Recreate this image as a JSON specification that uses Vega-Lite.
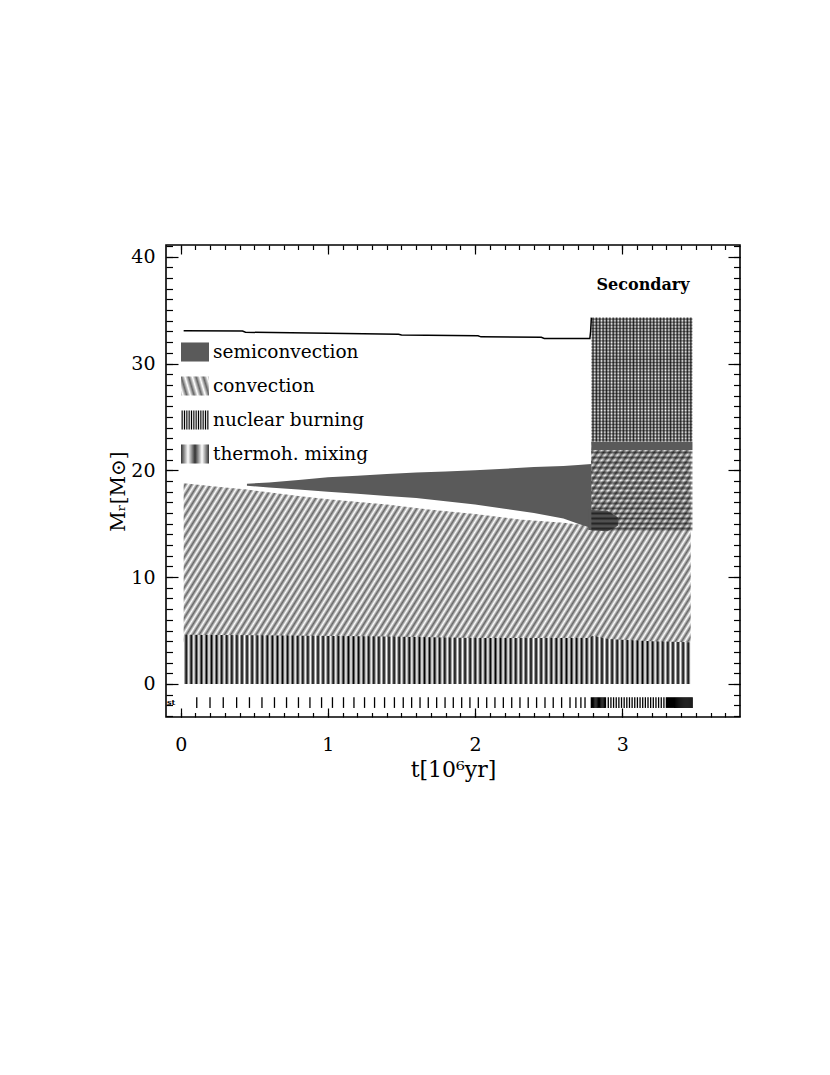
{
"$schema":"https://vega.github.io/schema/vega-lite/v6.json",
"width":574,"height":472,
"autosize":{"type":"none"},
"padding":{"left":166,"top":245,"right":90,"bottom":358},
"background":"white",
"config":{"view":{"stroke":"black","strokeWidth":1.6},"font":"DejaVu Serif",
"axis":{"labelFont":"DejaVu Serif","titleFont":"DejaVu Serif","labelColor":"black","titleColor":"black","tickColor":"black","tickWidth":1.2,"domain":false,"grid":false,"labelFontSize":19,"titleFontWeight":"normal","labelFlush":false,"labelOverlap":false}},
"params":[
{"name":"gConv","value":{"gradient":"linear","x1":0,"y1":0,"x2":1.175,"y2":0.29,"stops":[
{"offset":0,"color":"#fff"},{"offset":0.005,"color":"#666"},{"offset":0.01,"color":"#fff"},{"offset":0.015,"color":"#666"},{"offset":0.02,"color":"#fff"},{"offset":0.025,"color":"#666"},{"offset":0.03,"color":"#fff"},{"offset":0.035,"color":"#666"},{"offset":0.04,"color":"#fff"},{"offset":0.045,"color":"#666"},
{"offset":0.05,"color":"#fff"},{"offset":0.055,"color":"#666"},{"offset":0.06,"color":"#fff"},{"offset":0.065,"color":"#666"},{"offset":0.07,"color":"#fff"},{"offset":0.075,"color":"#666"},{"offset":0.08,"color":"#fff"},{"offset":0.085,"color":"#666"},{"offset":0.09,"color":"#fff"},{"offset":0.095,"color":"#666"},
{"offset":0.1,"color":"#fff"},{"offset":0.105,"color":"#666"},{"offset":0.11,"color":"#fff"},{"offset":0.115,"color":"#666"},{"offset":0.12,"color":"#fff"},{"offset":0.125,"color":"#666"},{"offset":0.13,"color":"#fff"},{"offset":0.135,"color":"#666"},{"offset":0.14,"color":"#fff"},{"offset":0.145,"color":"#666"},
{"offset":0.15,"color":"#fff"},{"offset":0.155,"color":"#666"},{"offset":0.16,"color":"#fff"},{"offset":0.165,"color":"#666"},{"offset":0.17,"color":"#fff"},{"offset":0.175,"color":"#666"},{"offset":0.18,"color":"#fff"},{"offset":0.185,"color":"#666"},{"offset":0.19,"color":"#fff"},{"offset":0.195,"color":"#666"},
{"offset":0.2,"color":"#fff"},{"offset":0.205,"color":"#666"},{"offset":0.21,"color":"#fff"},{"offset":0.215,"color":"#666"},{"offset":0.22,"color":"#fff"},{"offset":0.225,"color":"#666"},{"offset":0.23,"color":"#fff"},{"offset":0.235,"color":"#666"},{"offset":0.24,"color":"#fff"},{"offset":0.245,"color":"#666"},
{"offset":0.25,"color":"#fff"},{"offset":0.255,"color":"#666"},{"offset":0.26,"color":"#fff"},{"offset":0.265,"color":"#666"},{"offset":0.27,"color":"#fff"},{"offset":0.275,"color":"#666"},{"offset":0.28,"color":"#fff"},{"offset":0.285,"color":"#666"},{"offset":0.29,"color":"#fff"},{"offset":0.295,"color":"#666"},
{"offset":0.3,"color":"#fff"},{"offset":0.305,"color":"#666"},{"offset":0.31,"color":"#fff"},{"offset":0.315,"color":"#666"},{"offset":0.32,"color":"#fff"},{"offset":0.325,"color":"#666"},{"offset":0.33,"color":"#fff"},{"offset":0.335,"color":"#666"},{"offset":0.34,"color":"#fff"},{"offset":0.345,"color":"#666"},
{"offset":0.35,"color":"#fff"},{"offset":0.355,"color":"#666"},{"offset":0.36,"color":"#fff"},{"offset":0.365,"color":"#666"},{"offset":0.37,"color":"#fff"},{"offset":0.375,"color":"#666"},{"offset":0.38,"color":"#fff"},{"offset":0.385,"color":"#666"},{"offset":0.39,"color":"#fff"},{"offset":0.395,"color":"#666"},
{"offset":0.4,"color":"#fff"},{"offset":0.405,"color":"#666"},{"offset":0.41,"color":"#fff"},{"offset":0.415,"color":"#666"},{"offset":0.42,"color":"#fff"},{"offset":0.425,"color":"#666"},{"offset":0.43,"color":"#fff"},{"offset":0.435,"color":"#666"},{"offset":0.44,"color":"#fff"},{"offset":0.445,"color":"#666"},
{"offset":0.45,"color":"#fff"},{"offset":0.455,"color":"#666"},{"offset":0.46,"color":"#fff"},{"offset":0.465,"color":"#666"},{"offset":0.47,"color":"#fff"},{"offset":0.475,"color":"#666"},{"offset":0.48,"color":"#fff"},{"offset":0.485,"color":"#666"},{"offset":0.49,"color":"#fff"},{"offset":0.495,"color":"#666"},
{"offset":0.5,"color":"#fff"},{"offset":0.505,"color":"#666"},{"offset":0.51,"color":"#fff"},{"offset":0.515,"color":"#666"},{"offset":0.52,"color":"#fff"},{"offset":0.525,"color":"#666"},{"offset":0.53,"color":"#fff"},{"offset":0.535,"color":"#666"},{"offset":0.54,"color":"#fff"},{"offset":0.545,"color":"#666"},
{"offset":0.55,"color":"#fff"},{"offset":0.555,"color":"#666"},{"offset":0.56,"color":"#fff"},{"offset":0.565,"color":"#666"},{"offset":0.57,"color":"#fff"},{"offset":0.575,"color":"#666"},{"offset":0.58,"color":"#fff"},{"offset":0.585,"color":"#666"},{"offset":0.59,"color":"#fff"},{"offset":0.595,"color":"#666"},
{"offset":0.6,"color":"#fff"},{"offset":0.605,"color":"#666"},{"offset":0.61,"color":"#fff"},{"offset":0.615,"color":"#666"},{"offset":0.62,"color":"#fff"},{"offset":0.625,"color":"#666"},{"offset":0.63,"color":"#fff"},{"offset":0.635,"color":"#666"},{"offset":0.64,"color":"#fff"},{"offset":0.645,"color":"#666"},
{"offset":0.65,"color":"#fff"},{"offset":0.655,"color":"#666"},{"offset":0.66,"color":"#fff"},{"offset":0.665,"color":"#666"},{"offset":0.67,"color":"#fff"},{"offset":0.675,"color":"#666"},{"offset":0.68,"color":"#fff"},{"offset":0.685,"color":"#666"},{"offset":0.69,"color":"#fff"},{"offset":0.695,"color":"#666"},
{"offset":0.7,"color":"#fff"},{"offset":0.705,"color":"#666"},{"offset":0.71,"color":"#fff"},{"offset":0.715,"color":"#666"},{"offset":0.72,"color":"#fff"},{"offset":0.725,"color":"#666"},{"offset":0.73,"color":"#fff"},{"offset":0.735,"color":"#666"},{"offset":0.74,"color":"#fff"},{"offset":0.745,"color":"#666"},
{"offset":0.75,"color":"#fff"},{"offset":0.755,"color":"#666"},{"offset":0.76,"color":"#fff"},{"offset":0.765,"color":"#666"},{"offset":0.77,"color":"#fff"},{"offset":0.775,"color":"#666"},{"offset":0.78,"color":"#fff"},{"offset":0.785,"color":"#666"},{"offset":0.79,"color":"#fff"},{"offset":0.795,"color":"#666"},
{"offset":0.8,"color":"#fff"},{"offset":0.805,"color":"#666"},{"offset":0.81,"color":"#fff"},{"offset":0.815,"color":"#666"},{"offset":0.82,"color":"#fff"},{"offset":0.825,"color":"#666"},{"offset":0.83,"color":"#fff"},{"offset":0.835,"color":"#666"},{"offset":0.84,"color":"#fff"},{"offset":0.845,"color":"#666"},
{"offset":0.85,"color":"#fff"},{"offset":0.855,"color":"#666"},{"offset":0.86,"color":"#fff"},{"offset":0.865,"color":"#666"},{"offset":0.87,"color":"#fff"},{"offset":0.875,"color":"#666"},{"offset":0.88,"color":"#fff"},{"offset":0.885,"color":"#666"},{"offset":0.89,"color":"#fff"},{"offset":0.895,"color":"#666"},
{"offset":0.9,"color":"#fff"},{"offset":0.905,"color":"#666"},{"offset":0.91,"color":"#fff"},{"offset":0.915,"color":"#666"},{"offset":0.92,"color":"#fff"},{"offset":0.925,"color":"#666"},{"offset":0.93,"color":"#fff"},{"offset":0.935,"color":"#666"},{"offset":0.94,"color":"#fff"},{"offset":0.945,"color":"#666"},
{"offset":0.95,"color":"#fff"},{"offset":0.955,"color":"#666"},{"offset":0.96,"color":"#fff"},{"offset":0.965,"color":"#666"},{"offset":0.97,"color":"#fff"},{"offset":0.975,"color":"#666"},{"offset":0.98,"color":"#fff"},{"offset":0.985,"color":"#666"},{"offset":0.99,"color":"#fff"},{"offset":0.995,"color":"#666"},
{"offset":1,"color":"#fff"}]}},
{"name":"gNuc","value":{"gradient":"linear","x1":0,"y1":0,"x2":1,"y2":0,"stops":[
{"offset":0,"color":"#fff"},{"offset":0.005,"color":"#000"},{"offset":0.01,"color":"#fff"},{"offset":0.015,"color":"#000"},{"offset":0.02,"color":"#fff"},{"offset":0.025,"color":"#000"},{"offset":0.03,"color":"#fff"},{"offset":0.035,"color":"#000"},{"offset":0.04,"color":"#fff"},{"offset":0.045,"color":"#000"},
{"offset":0.05,"color":"#fff"},{"offset":0.055,"color":"#000"},{"offset":0.06,"color":"#fff"},{"offset":0.065,"color":"#000"},{"offset":0.07,"color":"#fff"},{"offset":0.075,"color":"#000"},{"offset":0.08,"color":"#fff"},{"offset":0.085,"color":"#000"},{"offset":0.09,"color":"#fff"},{"offset":0.095,"color":"#000"},
{"offset":0.1,"color":"#fff"},{"offset":0.105,"color":"#000"},{"offset":0.11,"color":"#fff"},{"offset":0.115,"color":"#000"},{"offset":0.12,"color":"#fff"},{"offset":0.125,"color":"#000"},{"offset":0.13,"color":"#fff"},{"offset":0.135,"color":"#000"},{"offset":0.14,"color":"#fff"},{"offset":0.145,"color":"#000"},
{"offset":0.15,"color":"#fff"},{"offset":0.155,"color":"#000"},{"offset":0.16,"color":"#fff"},{"offset":0.165,"color":"#000"},{"offset":0.17,"color":"#fff"},{"offset":0.175,"color":"#000"},{"offset":0.18,"color":"#fff"},{"offset":0.185,"color":"#000"},{"offset":0.19,"color":"#fff"},{"offset":0.195,"color":"#000"},
{"offset":0.2,"color":"#fff"},{"offset":0.205,"color":"#000"},{"offset":0.21,"color":"#fff"},{"offset":0.215,"color":"#000"},{"offset":0.22,"color":"#fff"},{"offset":0.225,"color":"#000"},{"offset":0.23,"color":"#fff"},{"offset":0.235,"color":"#000"},{"offset":0.24,"color":"#fff"},{"offset":0.245,"color":"#000"},
{"offset":0.25,"color":"#fff"},{"offset":0.255,"color":"#000"},{"offset":0.26,"color":"#fff"},{"offset":0.265,"color":"#000"},{"offset":0.27,"color":"#fff"},{"offset":0.275,"color":"#000"},{"offset":0.28,"color":"#fff"},{"offset":0.285,"color":"#000"},{"offset":0.29,"color":"#fff"},{"offset":0.295,"color":"#000"},
{"offset":0.3,"color":"#fff"},{"offset":0.305,"color":"#000"},{"offset":0.31,"color":"#fff"},{"offset":0.315,"color":"#000"},{"offset":0.32,"color":"#fff"},{"offset":0.325,"color":"#000"},{"offset":0.33,"color":"#fff"},{"offset":0.335,"color":"#000"},{"offset":0.34,"color":"#fff"},{"offset":0.345,"color":"#000"},
{"offset":0.35,"color":"#fff"},{"offset":0.355,"color":"#000"},{"offset":0.36,"color":"#fff"},{"offset":0.365,"color":"#000"},{"offset":0.37,"color":"#fff"},{"offset":0.375,"color":"#000"},{"offset":0.38,"color":"#fff"},{"offset":0.385,"color":"#000"},{"offset":0.39,"color":"#fff"},{"offset":0.395,"color":"#000"},
{"offset":0.4,"color":"#fff"},{"offset":0.405,"color":"#000"},{"offset":0.41,"color":"#fff"},{"offset":0.415,"color":"#000"},{"offset":0.42,"color":"#fff"},{"offset":0.425,"color":"#000"},{"offset":0.43,"color":"#fff"},{"offset":0.435,"color":"#000"},{"offset":0.44,"color":"#fff"},{"offset":0.445,"color":"#000"},
{"offset":0.45,"color":"#fff"},{"offset":0.455,"color":"#000"},{"offset":0.46,"color":"#fff"},{"offset":0.465,"color":"#000"},{"offset":0.47,"color":"#fff"},{"offset":0.475,"color":"#000"},{"offset":0.48,"color":"#fff"},{"offset":0.485,"color":"#000"},{"offset":0.49,"color":"#fff"},{"offset":0.495,"color":"#000"},
{"offset":0.5,"color":"#fff"},{"offset":0.505,"color":"#000"},{"offset":0.51,"color":"#fff"},{"offset":0.515,"color":"#000"},{"offset":0.52,"color":"#fff"},{"offset":0.525,"color":"#000"},{"offset":0.53,"color":"#fff"},{"offset":0.535,"color":"#000"},{"offset":0.54,"color":"#fff"},{"offset":0.545,"color":"#000"},
{"offset":0.55,"color":"#fff"},{"offset":0.555,"color":"#000"},{"offset":0.56,"color":"#fff"},{"offset":0.565,"color":"#000"},{"offset":0.57,"color":"#fff"},{"offset":0.575,"color":"#000"},{"offset":0.58,"color":"#fff"},{"offset":0.585,"color":"#000"},{"offset":0.59,"color":"#fff"},{"offset":0.595,"color":"#000"},
{"offset":0.6,"color":"#fff"},{"offset":0.605,"color":"#000"},{"offset":0.61,"color":"#fff"},{"offset":0.615,"color":"#000"},{"offset":0.62,"color":"#fff"},{"offset":0.625,"color":"#000"},{"offset":0.63,"color":"#fff"},{"offset":0.635,"color":"#000"},{"offset":0.64,"color":"#fff"},{"offset":0.645,"color":"#000"},
{"offset":0.65,"color":"#fff"},{"offset":0.655,"color":"#000"},{"offset":0.66,"color":"#fff"},{"offset":0.665,"color":"#000"},{"offset":0.67,"color":"#fff"},{"offset":0.675,"color":"#000"},{"offset":0.68,"color":"#fff"},{"offset":0.685,"color":"#000"},{"offset":0.69,"color":"#fff"},{"offset":0.695,"color":"#000"},
{"offset":0.7,"color":"#fff"},{"offset":0.705,"color":"#000"},{"offset":0.71,"color":"#fff"},{"offset":0.715,"color":"#000"},{"offset":0.72,"color":"#fff"},{"offset":0.725,"color":"#000"},{"offset":0.73,"color":"#fff"},{"offset":0.735,"color":"#000"},{"offset":0.74,"color":"#fff"},{"offset":0.745,"color":"#000"},
{"offset":0.75,"color":"#fff"},{"offset":0.755,"color":"#000"},{"offset":0.76,"color":"#fff"},{"offset":0.765,"color":"#000"},{"offset":0.77,"color":"#fff"},{"offset":0.775,"color":"#000"},{"offset":0.78,"color":"#fff"},{"offset":0.785,"color":"#000"},{"offset":0.79,"color":"#fff"},{"offset":0.795,"color":"#000"},
{"offset":0.8,"color":"#fff"},{"offset":0.805,"color":"#000"},{"offset":0.81,"color":"#fff"},{"offset":0.815,"color":"#000"},{"offset":0.82,"color":"#fff"},{"offset":0.825,"color":"#000"},{"offset":0.83,"color":"#fff"},{"offset":0.835,"color":"#000"},{"offset":0.84,"color":"#fff"},{"offset":0.845,"color":"#000"},
{"offset":0.85,"color":"#fff"},{"offset":0.855,"color":"#000"},{"offset":0.86,"color":"#fff"},{"offset":0.865,"color":"#000"},{"offset":0.87,"color":"#fff"},{"offset":0.875,"color":"#000"},{"offset":0.88,"color":"#fff"},{"offset":0.885,"color":"#000"},{"offset":0.89,"color":"#fff"},{"offset":0.895,"color":"#000"},
{"offset":0.9,"color":"#fff"},{"offset":0.905,"color":"#000"},{"offset":0.91,"color":"#fff"},{"offset":0.915,"color":"#000"},{"offset":0.92,"color":"#fff"},{"offset":0.925,"color":"#000"},{"offset":0.93,"color":"#fff"},{"offset":0.935,"color":"#000"},{"offset":0.94,"color":"#fff"},{"offset":0.945,"color":"#000"},
{"offset":0.95,"color":"#fff"},{"offset":0.955,"color":"#000"},{"offset":0.96,"color":"#fff"},{"offset":0.965,"color":"#000"},{"offset":0.97,"color":"#fff"},{"offset":0.975,"color":"#000"},{"offset":0.98,"color":"#fff"},{"offset":0.985,"color":"#000"},{"offset":0.99,"color":"#fff"},{"offset":0.995,"color":"#000"},
{"offset":1,"color":"#fff"}]}},
{"name":"gThV","value":{"gradient":"linear","x1":0,"y1":0,"x2":1,"y2":0,"stops":[
{"offset":0,"color":"#fff"},{"offset":0.0167,"color":"#333"},{"offset":0.0333,"color":"#fff"},{"offset":0.05,"color":"#333"},{"offset":0.0667,"color":"#fff"},{"offset":0.0833,"color":"#333"},{"offset":0.1,"color":"#fff"},{"offset":0.1167,"color":"#333"},{"offset":0.1333,"color":"#fff"},{"offset":0.15,"color":"#333"},
{"offset":0.1667,"color":"#fff"},{"offset":0.1833,"color":"#333"},{"offset":0.2,"color":"#fff"},{"offset":0.2167,"color":"#333"},{"offset":0.2333,"color":"#fff"},{"offset":0.25,"color":"#333"},{"offset":0.2667,"color":"#fff"},{"offset":0.2833,"color":"#333"},{"offset":0.3,"color":"#fff"},{"offset":0.3167,"color":"#333"},
{"offset":0.3333,"color":"#fff"},{"offset":0.35,"color":"#333"},{"offset":0.3667,"color":"#fff"},{"offset":0.3833,"color":"#333"},{"offset":0.4,"color":"#fff"},{"offset":0.4167,"color":"#333"},{"offset":0.4333,"color":"#fff"},{"offset":0.45,"color":"#333"},{"offset":0.4667,"color":"#fff"},{"offset":0.4833,"color":"#333"},
{"offset":0.5,"color":"#fff"},{"offset":0.5167,"color":"#333"},{"offset":0.5333,"color":"#fff"},{"offset":0.55,"color":"#333"},{"offset":0.5667,"color":"#fff"},{"offset":0.5833,"color":"#333"},{"offset":0.6,"color":"#fff"},{"offset":0.6167,"color":"#333"},{"offset":0.6333,"color":"#fff"},{"offset":0.65,"color":"#333"},
{"offset":0.6667,"color":"#fff"},{"offset":0.6833,"color":"#333"},{"offset":0.7,"color":"#fff"},{"offset":0.7167,"color":"#333"},{"offset":0.7333,"color":"#fff"},{"offset":0.75,"color":"#333"},{"offset":0.7667,"color":"#fff"},{"offset":0.7833,"color":"#333"},{"offset":0.8,"color":"#fff"},{"offset":0.8167,"color":"#333"},
{"offset":0.8333,"color":"#fff"},{"offset":0.85,"color":"#333"},{"offset":0.8667,"color":"#fff"},{"offset":0.8833,"color":"#333"},{"offset":0.9,"color":"#fff"},{"offset":0.9167,"color":"#333"},{"offset":0.9333,"color":"#fff"},{"offset":0.95,"color":"#333"},{"offset":0.9667,"color":"#fff"},{"offset":0.9833,"color":"#333"},
{"offset":1,"color":"#fff"}]}},
{"name":"gThH","value":{"gradient":"linear","x1":1,"y1":0,"x2":1,"y2":1,"stops":[
{"offset":0,"color":"rgba(0,0,0,0)"},{"offset":0.0125,"color":"rgba(0,0,0,0.55)"},{"offset":0.025,"color":"rgba(0,0,0,0)"},{"offset":0.0375,"color":"rgba(0,0,0,0.55)"},{"offset":0.05,"color":"rgba(0,0,0,0)"},{"offset":0.0625,"color":"rgba(0,0,0,0.55)"},{"offset":0.075,"color":"rgba(0,0,0,0)"},{"offset":0.0875,"color":"rgba(0,0,0,0.55)"},
{"offset":0.1,"color":"rgba(0,0,0,0)"},{"offset":0.1125,"color":"rgba(0,0,0,0.55)"},{"offset":0.125,"color":"rgba(0,0,0,0)"},{"offset":0.1375,"color":"rgba(0,0,0,0.55)"},{"offset":0.15,"color":"rgba(0,0,0,0)"},{"offset":0.1625,"color":"rgba(0,0,0,0.55)"},{"offset":0.175,"color":"rgba(0,0,0,0)"},{"offset":0.1875,"color":"rgba(0,0,0,0.55)"},
{"offset":0.2,"color":"rgba(0,0,0,0)"},{"offset":0.2125,"color":"rgba(0,0,0,0.55)"},{"offset":0.225,"color":"rgba(0,0,0,0)"},{"offset":0.2375,"color":"rgba(0,0,0,0.55)"},{"offset":0.25,"color":"rgba(0,0,0,0)"},{"offset":0.2625,"color":"rgba(0,0,0,0.55)"},{"offset":0.275,"color":"rgba(0,0,0,0)"},{"offset":0.2875,"color":"rgba(0,0,0,0.55)"},
{"offset":0.3,"color":"rgba(0,0,0,0)"},{"offset":0.3125,"color":"rgba(0,0,0,0.55)"},{"offset":0.325,"color":"rgba(0,0,0,0)"},{"offset":0.3375,"color":"rgba(0,0,0,0.55)"},{"offset":0.35,"color":"rgba(0,0,0,0)"},{"offset":0.3625,"color":"rgba(0,0,0,0.55)"},{"offset":0.375,"color":"rgba(0,0,0,0)"},{"offset":0.3875,"color":"rgba(0,0,0,0.55)"},
{"offset":0.4,"color":"rgba(0,0,0,0)"},{"offset":0.4125,"color":"rgba(0,0,0,0.55)"},{"offset":0.425,"color":"rgba(0,0,0,0)"},{"offset":0.4375,"color":"rgba(0,0,0,0.55)"},{"offset":0.45,"color":"rgba(0,0,0,0)"},{"offset":0.4625,"color":"rgba(0,0,0,0.55)"},{"offset":0.475,"color":"rgba(0,0,0,0)"},{"offset":0.4875,"color":"rgba(0,0,0,0.55)"},
{"offset":0.5,"color":"rgba(0,0,0,0)"},{"offset":0.5125,"color":"rgba(0,0,0,0.55)"},{"offset":0.525,"color":"rgba(0,0,0,0)"},{"offset":0.5375,"color":"rgba(0,0,0,0.55)"},{"offset":0.55,"color":"rgba(0,0,0,0)"},{"offset":0.5625,"color":"rgba(0,0,0,0.55)"},{"offset":0.575,"color":"rgba(0,0,0,0)"},{"offset":0.5875,"color":"rgba(0,0,0,0.55)"},
{"offset":0.6,"color":"rgba(0,0,0,0)"},{"offset":0.6125,"color":"rgba(0,0,0,0.55)"},{"offset":0.625,"color":"rgba(0,0,0,0)"},{"offset":0.6375,"color":"rgba(0,0,0,0.55)"},{"offset":0.65,"color":"rgba(0,0,0,0)"},{"offset":0.6625,"color":"rgba(0,0,0,0.55)"},{"offset":0.675,"color":"rgba(0,0,0,0)"},{"offset":0.6875,"color":"rgba(0,0,0,0.55)"},
{"offset":0.7,"color":"rgba(0,0,0,0)"},{"offset":0.7125,"color":"rgba(0,0,0,0.55)"},{"offset":0.725,"color":"rgba(0,0,0,0)"},{"offset":0.7375,"color":"rgba(0,0,0,0.55)"},{"offset":0.75,"color":"rgba(0,0,0,0)"},{"offset":0.7625,"color":"rgba(0,0,0,0.55)"},{"offset":0.775,"color":"rgba(0,0,0,0)"},{"offset":0.7875,"color":"rgba(0,0,0,0.55)"},
{"offset":0.8,"color":"rgba(0,0,0,0)"},{"offset":0.8125,"color":"rgba(0,0,0,0.55)"},{"offset":0.825,"color":"rgba(0,0,0,0)"},{"offset":0.8375,"color":"rgba(0,0,0,0.55)"},{"offset":0.85,"color":"rgba(0,0,0,0)"},{"offset":0.8625,"color":"rgba(0,0,0,0.55)"},{"offset":0.875,"color":"rgba(0,0,0,0)"},{"offset":0.8875,"color":"rgba(0,0,0,0.55)"},
{"offset":0.9,"color":"rgba(0,0,0,0)"},{"offset":0.9125,"color":"rgba(0,0,0,0.55)"},{"offset":0.925,"color":"rgba(0,0,0,0)"},{"offset":0.9375,"color":"rgba(0,0,0,0.55)"},{"offset":0.95,"color":"rgba(0,0,0,0)"},{"offset":0.9625,"color":"rgba(0,0,0,0.55)"},{"offset":0.975,"color":"rgba(0,0,0,0)"},{"offset":0.9875,"color":"rgba(0,0,0,0.55)"},
{"offset":1,"color":"rgba(0,0,0,0)"}]}},
{"name":"gHz","value":{"gradient":"linear","x1":1,"y1":0,"x2":1,"y2":1,"stops":[
{"offset":0,"color":"rgba(0,0,0,0)"},{"offset":0.03125,"color":"rgba(0,0,0,0.6)"},{"offset":0.0625,"color":"rgba(0,0,0,0)"},{"offset":0.09375,"color":"rgba(0,0,0,0.6)"},{"offset":0.125,"color":"rgba(0,0,0,0)"},{"offset":0.15625,"color":"rgba(0,0,0,0.6)"},{"offset":0.1875,"color":"rgba(0,0,0,0)"},{"offset":0.21875,"color":"rgba(0,0,0,0.6)"},
{"offset":0.25,"color":"rgba(0,0,0,0)"},{"offset":0.28125,"color":"rgba(0,0,0,0.6)"},{"offset":0.3125,"color":"rgba(0,0,0,0)"},{"offset":0.34375,"color":"rgba(0,0,0,0.6)"},{"offset":0.375,"color":"rgba(0,0,0,0)"},{"offset":0.40625,"color":"rgba(0,0,0,0.6)"},{"offset":0.4375,"color":"rgba(0,0,0,0)"},{"offset":0.46875,"color":"rgba(0,0,0,0.6)"},
{"offset":0.5,"color":"rgba(0,0,0,0)"},{"offset":0.53125,"color":"rgba(0,0,0,0.6)"},{"offset":0.5625,"color":"rgba(0,0,0,0)"},{"offset":0.59375,"color":"rgba(0,0,0,0.6)"},{"offset":0.625,"color":"rgba(0,0,0,0)"},{"offset":0.65625,"color":"rgba(0,0,0,0.6)"},{"offset":0.6875,"color":"rgba(0,0,0,0)"},{"offset":0.71875,"color":"rgba(0,0,0,0.6)"},
{"offset":0.75,"color":"rgba(0,0,0,0)"},{"offset":0.78125,"color":"rgba(0,0,0,0.6)"},{"offset":0.8125,"color":"rgba(0,0,0,0)"},{"offset":0.84375,"color":"rgba(0,0,0,0.6)"},{"offset":0.875,"color":"rgba(0,0,0,0)"},{"offset":0.90625,"color":"rgba(0,0,0,0.6)"},{"offset":0.9375,"color":"rgba(0,0,0,0)"},{"offset":0.96875,"color":"rgba(0,0,0,0.6)"},
{"offset":1,"color":"rgba(0,0,0,0)"}]}},
{"name":"lgConv","value":{"gradient":"linear","x1":0,"y1":0,"x2":1.207,"y2":0.512,"stops":[
{"offset":0,"color":"#fff"},{"offset":0.0833,"color":"#222"},{"offset":0.1667,"color":"#fff"},{"offset":0.25,"color":"#222"},{"offset":0.3333,"color":"#fff"},{"offset":0.4167,"color":"#222"},{"offset":0.5,"color":"#fff"},{"offset":0.5833,"color":"#222"},{"offset":0.6667,"color":"#fff"},{"offset":0.75,"color":"#222"},{"offset":0.8333,"color":"#fff"},{"offset":0.9167,"color":"#222"},{"offset":1,"color":"#fff"}]}},
{"name":"lgNuc","value":{"gradient":"linear","x1":0,"y1":0,"x2":1,"y2":0,"stops":[
{"offset":0,"color":"#fff"},{"offset":0.0714,"color":"#000"},{"offset":0.1429,"color":"#fff"},{"offset":0.2143,"color":"#000"},{"offset":0.2857,"color":"#fff"},{"offset":0.3571,"color":"#000"},{"offset":0.4286,"color":"#fff"},{"offset":0.5,"color":"#000"},{"offset":0.5714,"color":"#fff"},{"offset":0.6429,"color":"#000"},{"offset":0.7143,"color":"#fff"},{"offset":0.7857,"color":"#000"},{"offset":0.8571,"color":"#fff"},{"offset":0.9286,"color":"#000"},{"offset":1,"color":"#fff"}]}},
{"name":"lgTh","value":{"gradient":"linear","x1":0,"y1":0,"x2":1,"y2":0,"stops":[
{"offset":0,"color":"#aaa"},{"offset":0.0714,"color":"#000"},{"offset":0.1429,"color":"#aaa"},{"offset":0.2143,"color":"#000"},{"offset":0.2857,"color":"#aaa"},{"offset":0.3571,"color":"#000"},{"offset":0.4286,"color":"#aaa"},{"offset":0.5,"color":"#000"},{"offset":0.5714,"color":"#aaa"},{"offset":0.6429,"color":"#000"},{"offset":0.7143,"color":"#aaa"},{"offset":0.7857,"color":"#000"},{"offset":0.8571,"color":"#aaa"},{"offset":0.9286,"color":"#000"},{"offset":1,"color":"#aaa"}]}}
],
"datasets":{
"regions":[
{"kind":"convection","part":"c1","t":0.02,"lo":3.9,"hi":18.8},
{"kind":"convection","part":"c1","t":0.3,"lo":3.9,"hi":18.4},
{"kind":"convection","part":"c1","t":0.45,"lo":3.9,"hi":18.2},
{"kind":"convection","part":"c1","t":0.8,"lo":3.9,"hi":17.6},
{"kind":"convection","part":"c1","t":1.0,"lo":3.9,"hi":17.3},
{"kind":"convection","part":"c1","t":1.4,"lo":3.9,"hi":16.8},
{"kind":"convection","part":"c1","t":1.7,"lo":3.9,"hi":16.3},
{"kind":"convection","part":"c1","t":2.0,"lo":3.9,"hi":15.9},
{"kind":"convection","part":"c1","t":2.3,"lo":3.9,"hi":15.4},
{"kind":"convection","part":"c1","t":2.6,"lo":3.9,"hi":15.1},
{"kind":"convection","part":"c1","t":2.78,"lo":3.9,"hi":14.8},
{"kind":"convection","part":"c1","t":2.79,"lo":3.9,"hi":22.7},
{"kind":"convection","part":"c1","t":3.465,"lo":3.9,"hi":22.7},
{"kind":"nuclear burning","part":"n1","t":0.02,"lo":0,"hi":4.6},
{"kind":"nuclear burning","part":"n1","t":1.4,"lo":0,"hi":4.45},
{"kind":"nuclear burning","part":"n1","t":2.0,"lo":0,"hi":4.3},
{"kind":"nuclear burning","part":"n1","t":2.77,"lo":0,"hi":4.3},
{"kind":"nuclear burning","part":"n1","t":2.8,"lo":0,"hi":4.5},
{"kind":"nuclear burning","part":"n1","t":2.9,"lo":0,"hi":4.2},
{"kind":"nuclear burning","part":"n1","t":3.2,"lo":0,"hi":4.0},
{"kind":"nuclear burning","part":"n1","t":3.465,"lo":0,"hi":3.9},
{"kind":"semiconvection","part":"s1","t":0.45,"lo":18.55,"hi":18.75},
{"kind":"semiconvection","part":"s1","t":0.6,"lo":18.4,"hi":18.85},
{"kind":"semiconvection","part":"s1","t":0.8,"lo":18.2,"hi":19.1},
{"kind":"semiconvection","part":"s1","t":1.0,"lo":18.0,"hi":19.35},
{"kind":"semiconvection","part":"s1","t":1.2,"lo":17.8,"hi":19.5},
{"kind":"semiconvection","part":"s1","t":1.4,"lo":17.6,"hi":19.65},
{"kind":"semiconvection","part":"s1","t":1.6,"lo":17.4,"hi":19.8},
{"kind":"semiconvection","part":"s1","t":1.8,"lo":17.1,"hi":19.9},
{"kind":"semiconvection","part":"s1","t":2.0,"lo":16.8,"hi":20.0},
{"kind":"semiconvection","part":"s1","t":2.2,"lo":16.4,"hi":20.15},
{"kind":"semiconvection","part":"s1","t":2.4,"lo":16.0,"hi":20.3},
{"kind":"semiconvection","part":"s1","t":2.6,"lo":15.5,"hi":20.4},
{"kind":"semiconvection","part":"s1","t":2.7,"lo":15.0,"hi":20.5},
{"kind":"semiconvection","part":"s1","t":2.79,"lo":14.6,"hi":20.6},
{"kind":"semiconvection","part":"s2","t":2.77,"lo":14.4,"hi":16.3},
{"kind":"semiconvection","part":"s2","t":2.9,"lo":14.3,"hi":16.2},
{"kind":"semiconvection","part":"s2","t":2.97,"lo":14.8,"hi":15.6},
{"kind":"semiconvection","part":"s3","t":2.79,"lo":21.9,"hi":22.7},
{"kind":"semiconvection","part":"s3","t":3.477,"lo":21.9,"hi":22.7},
{"kind":"hlines","part":"h1","t":2.79,"lo":14.3,"hi":21.9},
{"kind":"hlines","part":"h1","t":3.477,"lo":14.3,"hi":21.9},
{"kind":"thermoh. mixing","part":"t1","t":2.79,"lo":22.7,"hi":34.3},
{"kind":"thermoh. mixing","part":"t1","t":3.477,"lo":22.7,"hi":34.3}
],
"surface":[
{"t":0.02,"m":33.07},{"t":0.42,"m":33.05},{"t":0.44,"m":32.93},{"t":1.0,"m":32.83},{"t":1.48,"m":32.75},{"t":1.5,"m":32.67},{"t":2.02,"m":32.6},{"t":2.04,"m":32.5},{"t":2.45,"m":32.45},{"t":2.47,"m":32.35},{"t":2.78,"m":32.35},{"t":2.785,"m":33.0},{"t":2.79,"m":34.3}
],
"steps":[
{"t":0.109},{"t":0.199},{"t":0.289},{"t":0.38},{"t":0.467},{"t":0.552},{"t":0.637},{"t":0.719},{"t":0.8},{"t":0.878},{"t":0.957},{"t":1.031},{"t":1.106},{"t":1.177},{"t":1.249},{"t":1.317},{"t":1.385},{"t":1.452},{"t":1.512},{"t":1.569},{"t":1.626},{"t":1.682},{"t":1.739},{"t":1.796},{"t":1.852},{"t":1.909},{"t":1.965},{"t":2.022},{"t":2.079},{"t":2.135},{"t":2.192},{"t":2.249},{"t":2.305},{"t":2.361},{"t":2.418},{"t":2.475},{"t":2.531},{"t":2.588},{"t":2.645},{"t":2.685},{"t":2.719},{"t":2.747},
{"t":2.79},{"t":2.798},{"t":2.806},{"t":2.814},{"t":2.822},{"t":2.83},{"t":2.838},{"t":2.846},{"t":2.854},{"t":2.862},{"t":2.87},{"t":2.878},{"t":2.886},
{"t":2.905},{"t":2.923},{"t":2.941},{"t":2.959},{"t":2.977},{"t":2.995},{"t":3.013},{"t":3.031},{"t":3.049},{"t":3.067},{"t":3.085},{"t":3.103},{"t":3.121},{"t":3.139},{"t":3.157},{"t":3.175},{"t":3.193},{"t":3.211},{"t":3.229},{"t":3.247},{"t":3.265},{"t":3.283},
{"t":3.3},{"t":3.307},{"t":3.314},{"t":3.321},{"t":3.328},{"t":3.335},{"t":3.342},{"t":3.349},{"t":3.356},{"t":3.363},{"t":3.37},{"t":3.377},{"t":3.384},{"t":3.391},{"t":3.398},{"t":3.405},{"t":3.412},{"t":3.419},{"t":3.426},{"t":3.433},{"t":3.44},{"t":3.447},{"t":3.454},{"t":3.461},{"t":3.468},{"t":3.475}
]
},
"resolve":{"axis":{"x":"independent","y":"independent"}},
"layer":[
{"data":{"name":"regions"},"transform":[{"filter":"datum.kind === 'convection'"}],
 "mark":{"type":"area","opacity":1},
 "encoding":{
  "x":{"field":"t","type":"quantitative","scale":{"domain":[-0.1,3.8],"nice":false,"zero":false},
   "axis":{"orient":"bottom","values":[0,1,2,3],"format":"d","tickSize":-9,"labelPadding":27,"title":"t[10⁶yr]","titleFontSize":22,"titlePadding":5}},
  "y":{"field":"hi","type":"quantitative","scale":{"domain":[-3.1,41.1],"nice":false,"zero":false},
   "axis":{"orient":"left","values":[0,10,20,30,40],"format":"d","tickSize":-12,"labelPadding":23,"title":"Mᵣ[M⊙]","titleFontSize":20,"titlePadding":2,"titleY":246}},
  "y2":{"field":"lo"},
  "fill":{"field":"kind","type":"nominal",
   "scale":{"domain":["semiconvection","convection","nuclear burning","thermoh. mixing"],"range":["#5a5a5a",{"expr":"gConv"},{"expr":"gNuc"},{"expr":"gThV"}]},
   "legend":{"orient":"none","legendX":15,"legendY":93,"title":null,"symbolType":"M-1,-0.68H1V0.68H-1Z","symbolSize":784,"symbolStrokeWidth":0,"symbolOpacity":1,"labelFont":"DejaVu Serif","labelFontSize":18.5,"labelColor":"black","labelOffset":4,"rowPadding":10,"padding":0,
    "encode":{"symbols":{"update":{"fill":{"signal":"datum.value === 'convection' ? lgConv : datum.value === 'nuclear burning' ? lgNuc : datum.value === 'thermoh. mixing' ? lgTh : '#555'"}}}}}}
 }},
{"data":{"name":"regions"},"transform":[{"filter":"datum.kind === 'nuclear burning'"}],
 "mark":{"type":"area","opacity":1},
 "encoding":{
  "x":{"field":"t","type":"quantitative","scale":{"domain":[-0.1,3.8],"nice":false,"zero":false},
   "axis":{"orient":"bottom","values":[0,0.1,0.2,0.3,0.4,0.5,0.6,0.7,0.8,0.9,1,1.1,1.2,1.3,1.4,1.5,1.6,1.7,1.8,1.9,2,2.1,2.2,2.3,2.4,2.5,2.6,2.7,2.8,2.9,3,3.1,3.2,3.3,3.4,3.5,3.6,3.7],"tickSize":-4.5,"labels":false,"title":null}},
  "y":{"field":"hi","type":"quantitative","scale":{"domain":[-3.1,41.1],"nice":false,"zero":false},
   "axis":{"orient":"left","values":[-3,-2,-1,0,1,2,3,4,5,6,7,8,9,10,11,12,13,14,15,16,17,18,19,20,21,22,23,24,25,26,27,28,29,30,31,32,33,34,35,36,37,38,39,40,41],"tickSize":-6.5,"labels":false,"title":null}},
  "y2":{"field":"lo"},
  "fill":{"field":"kind","type":"nominal","scale":{"domain":["semiconvection","convection","nuclear burning","thermoh. mixing"],"range":["#5a5a5a",{"expr":"gConv"},{"expr":"gNuc"},{"expr":"gThV"}]},"legend":null}
 }},
{"data":{"name":"regions"},"transform":[{"filter":"datum.kind === 'semiconvection'"}],
 "mark":{"type":"area","opacity":1},
 "encoding":{
  "x":{"field":"t","type":"quantitative","scale":{"domain":[-0.1,3.8],"nice":false,"zero":false},
   "axis":{"orient":"top","values":[0,1,2,3],"tickSize":-9,"labels":false,"title":null}},
  "y":{"field":"hi","type":"quantitative","scale":{"domain":[-3.1,41.1],"nice":false,"zero":false},
   "axis":{"orient":"right","values":[0,10,20,30,40],"tickSize":-12,"labels":false,"title":null}},
  "y2":{"field":"lo"},
  "detail":{"field":"part"},
  "fill":{"field":"kind","type":"nominal","scale":{"domain":["semiconvection","convection","nuclear burning","thermoh. mixing"],"range":["#5a5a5a",{"expr":"gConv"},{"expr":"gNuc"},{"expr":"gThV"}]},"legend":null}
 }},
{"data":{"name":"regions"},"transform":[{"filter":"datum.kind === 'hlines'"}],
 "mark":{"type":"area","opacity":1,"fill":{"expr":"gHz"}},
 "encoding":{
  "x":{"field":"t","type":"quantitative","scale":{"domain":[-0.1,3.8],"nice":false,"zero":false},
   "axis":{"orient":"top","values":[0,0.1,0.2,0.3,0.4,0.5,0.6,0.7,0.8,0.9,1,1.1,1.2,1.3,1.4,1.5,1.6,1.7,1.8,1.9,2,2.1,2.2,2.3,2.4,2.5,2.6,2.7,2.8,2.9,3,3.1,3.2,3.3,3.4,3.5,3.6,3.7],"tickSize":-4.5,"labels":false,"title":null}},
  "y":{"field":"hi","type":"quantitative","scale":{"domain":[-3.1,41.1],"nice":false,"zero":false},
   "axis":{"orient":"right","values":[-3,-2,-1,0,1,2,3,4,5,6,7,8,9,10,11,12,13,14,15,16,17,18,19,20,21,22,23,24,25,26,27,28,29,30,31,32,33,34,35,36,37,38,39,40,41],"tickSize":-6.5,"labels":false,"title":null}},
  "y2":{"field":"lo"}
 }},
{"data":{"name":"regions"},"transform":[{"filter":"datum.kind === 'thermoh. mixing'"}],
 "mark":{"type":"area","opacity":1},
 "encoding":{
  "x":{"field":"t","type":"quantitative","scale":{"domain":[-0.1,3.8],"nice":false,"zero":false},"axis":null},
  "y":{"field":"hi","type":"quantitative","scale":{"domain":[-3.1,41.1],"nice":false,"zero":false},"axis":null},
  "y2":{"field":"lo"},
  "fill":{"field":"kind","type":"nominal","scale":{"domain":["semiconvection","convection","nuclear burning","thermoh. mixing"],"range":["#5a5a5a",{"expr":"gConv"},{"expr":"gNuc"},{"expr":"gThV"}]},"legend":null}
 }},
{"data":{"name":"regions"},"transform":[{"filter":"datum.kind === 'thermoh. mixing'"}],
 "mark":{"type":"area","opacity":1,"fill":{"expr":"gThH"}},
 "encoding":{
  "x":{"field":"t","type":"quantitative","scale":{"domain":[-0.1,3.8],"nice":false,"zero":false},"axis":null},
  "y":{"field":"hi","type":"quantitative","scale":{"domain":[-3.1,41.1],"nice":false,"zero":false},"axis":null},
  "y2":{"field":"lo"}
 }},
{"data":{"name":"surface"},
 "mark":{"type":"line","color":"black","strokeWidth":1.5},
 "encoding":{
  "x":{"field":"t","type":"quantitative","scale":{"domain":[-0.1,3.8],"nice":false,"zero":false},"axis":null},
  "y":{"field":"m","type":"quantitative","scale":{"domain":[-3.1,41.1],"nice":false,"zero":false},"axis":null}
 }},
{"data":{"name":"steps"},
 "mark":{"type":"rule","color":"black","strokeWidth":1.3},
 "encoding":{
  "x":{"field":"t","type":"quantitative","scale":{"domain":[-0.1,3.8],"nice":false,"zero":false},"axis":null},
  "y":{"datum":-1.25,"type":"quantitative","scale":{"domain":[-3.1,41.1],"nice":false,"zero":false},"axis":null},
  "y2":{"datum":-2.25}
 }},
{"data":{"values":[{}]},
 "mark":{"type":"text","text":"Secondary","font":"DejaVu Serif","fontSize":16,"fontWeight":"bold","align":"center","baseline":"middle","color":"black"},
 "encoding":{
  "x":{"datum":3.141,"type":"quantitative","scale":{"domain":[-0.1,3.8],"nice":false,"zero":false},"axis":null},
  "y":{"datum":37.4,"type":"quantitative","scale":{"domain":[-3.1,41.1],"nice":false,"zero":false},"axis":null}
 }},
{"data":{"values":[{}]},
 "mark":{"type":"text","text":"st","font":"DejaVu Serif","fontSize":8,"fontWeight":"bold","align":"center","baseline":"middle","color":"black"},
 "encoding":{
  "x":{"datum":-0.065,"type":"quantitative","scale":{"domain":[-0.1,3.8],"nice":false,"zero":false},"axis":null},
  "y":{"datum":-1.75,"type":"quantitative","scale":{"domain":[-3.1,41.1],"nice":false,"zero":false},"axis":null}
 }}
]
}
